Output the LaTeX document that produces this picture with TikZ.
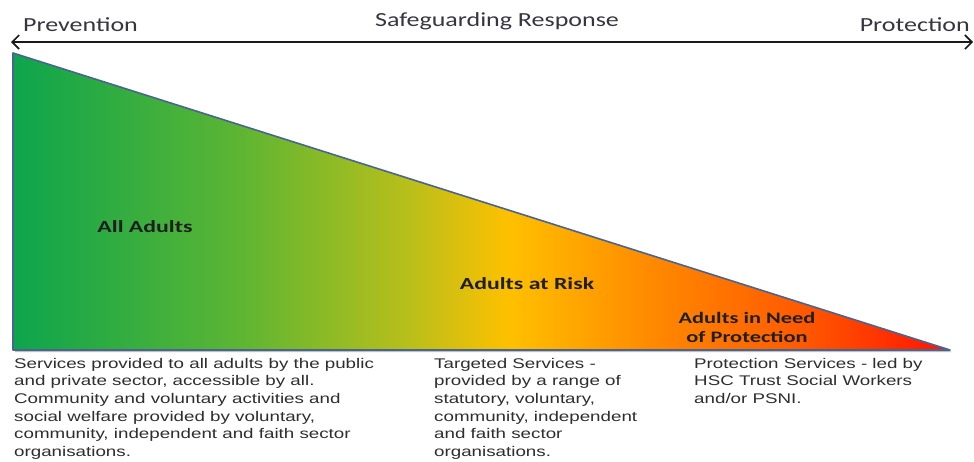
\documentclass[tikz,border=0pt]{standalone}
\usepackage{fontspec}
\setmainfont{Liberation Sans}
\newfontfamily\bodyfont[FakeStretch=1.34]{Liberation Sans}
\newfontfamily\calfont[FakeStretch=1.3]{Carlito}
\newfontfamily\calbold[FakeStretch=1.4]{Carlito Bold}
\usetikzlibrary{arrows.meta}
\definecolor{gA}{HTML}{0DA54D}
\definecolor{gB}{HTML}{5CB533}
\definecolor{gC}{HTML}{B7BF1B}
\definecolor{yA}{HTML}{FFC000}
\definecolor{oA}{HTML}{FF8A00}
\definecolor{oB}{HTML}{FF5A00}
\definecolor{rA}{HTML}{FF1200}
\definecolor{edge}{HTML}{4A6490}
\definecolor{toptxt}{HTML}{35363F}
\definecolor{bodytxt}{HTML}{2E2E2E}
\pgfdeclarehorizontalshading{safeg}{100bp}{color(0bp)=(gA); color(25bp)=(gA); color(37bp)=(gB); color(46bp)=(gC); color(51.5bp)=(yA); color(59bp)=(oA); color(67bp)=(oB); color(75bp)=(rA); color(100bp)=(rA)}
\tikzset{
  toplbl/.style={font=\calfont\fontsize{20}{22}\selectfont, text=toptxt, inner sep=0pt},
  zonelbl/.style={font=\calbold\fontsize{17}{19}\selectfont, text=black!88, inner sep=0pt, align=center},
  bodylbl/.style={font=\bodyfont\fontsize{14}{17.6}\selectfont, text=bodytxt, inner sep=0pt, align=left, anchor=north west},
}
\begin{document}
\begin{tikzpicture}[x=1pt,y=-1pt]
\useasboundingbox (0,0) rectangle (974,461);
\fill[white] (0,0) rectangle (974,461);
\coordinate (tl) at (13,53);
\coordinate (bl) at (13,350);
\coordinate (br) at (950,350);
\coordinate (al) at (11,42);
\coordinate (ar) at (973,42);
\fill[black!25] ([shift={(2,2)}]tl) -- ([shift={(2,2)}]bl) -- ([shift={(2,2)}]br) -- cycle;
\shade[shading=safeg, draw=edge, line width=1.6pt, line join=round] (tl) -- (bl) -- (br) -- cycle;
\draw[line width=2.6pt, black!90, {Straight Barb[length=7pt,width=14pt,line width=1.6pt]}-{Straight Barb[length=7pt,width=14pt,line width=1.6pt]}] (al) -- (ar);
\node[toplbl, anchor=west] (prev) at (23,25) {Prevention};
\node[toplbl] (safe) at (497,21) {Safeguarding Response};
\node[toplbl, anchor=east] (prot) at (970,25) {Protection};
\node[zonelbl] (all) at (145,227) {All Adults};
\node[zonelbl] (risk) at (527,284) {Adults at Risk};
\node[zonelbl, font=\calbold\fontsize{16}{19}\selectfont] (need) at (747,327) {Adults in Need\\of Protection};
\node[bodylbl] (b1) at (14,358) {Services provided to all adults by the public\\and private sector, accessible by all.\\Community and voluntary activities and\\social welfare provided by voluntary,\\community, independent and faith sector\\organisations.};
\node[bodylbl] (b2) at (434,358) {Targeted Services -\\provided by a range of\\statutory, voluntary,\\community, independent\\and faith sector\\organisations.};
\node[bodylbl] (b3) at (694,358) {Protection Services - led by\\HSC Trust Social Workers\\and/or PSNI.};
\end{tikzpicture}
\end{document}
